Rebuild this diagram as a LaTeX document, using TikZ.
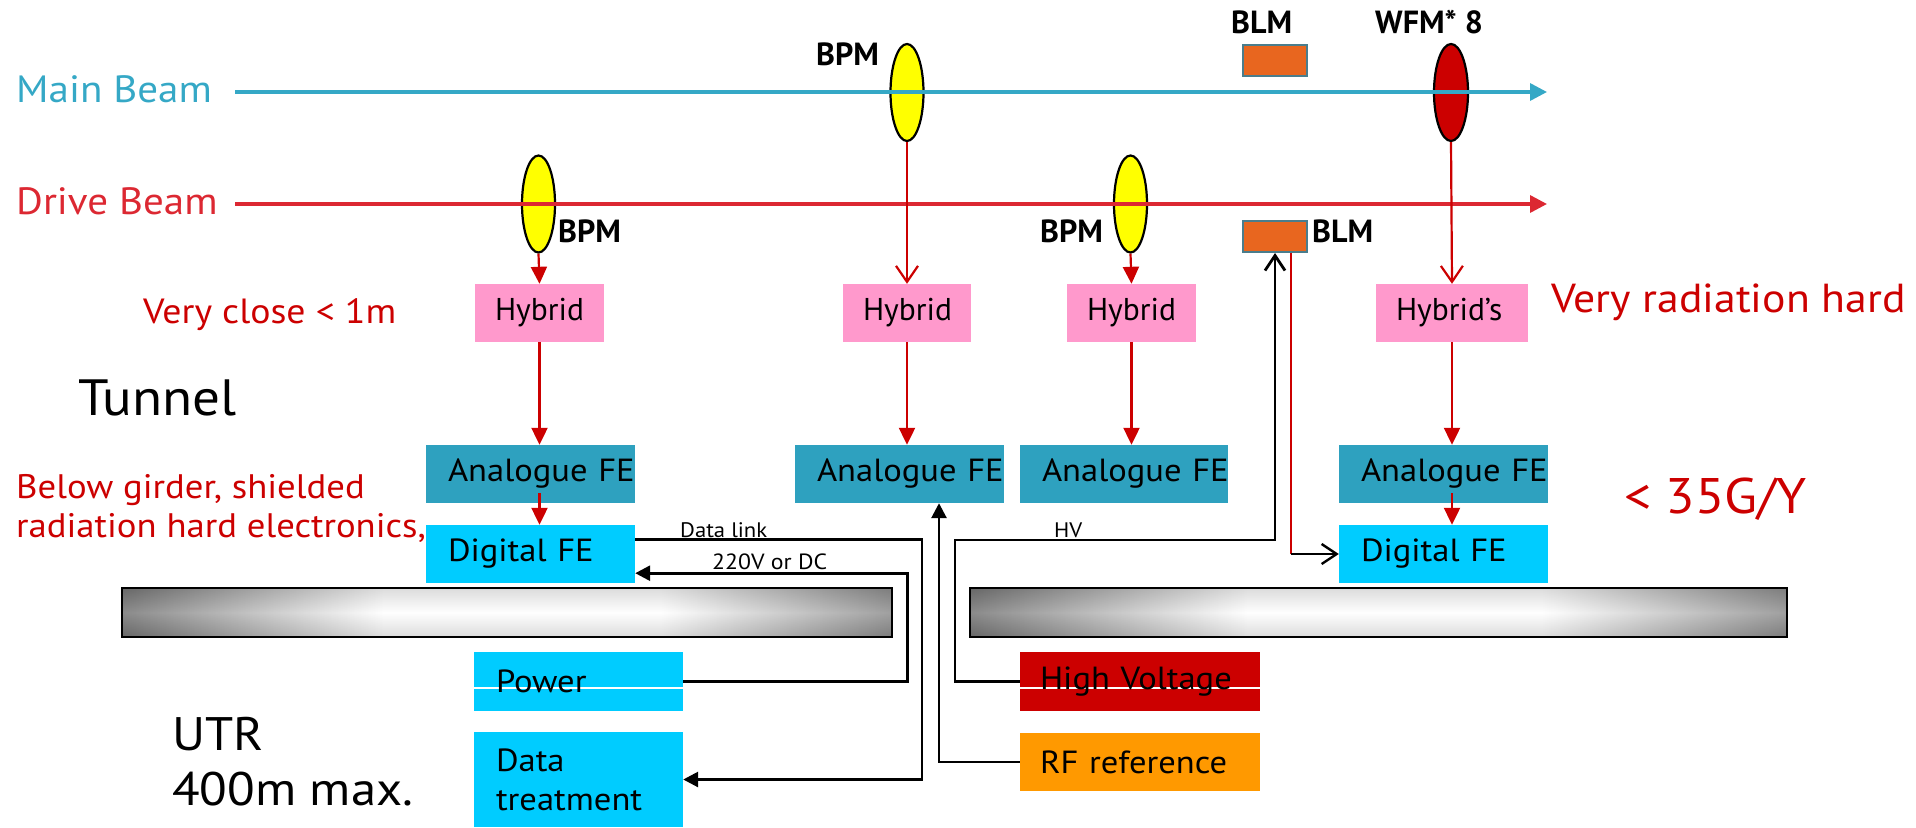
\documentclass[tikz,border=0pt]{standalone}
\usepackage{fontspec}
\setmainfont{PT Sans}[FakeStretch=1.08]
\newfontfamily\plainfont{PT Sans}
\usetikzlibrary{arrows.meta,shapes.geometric,calc}

\definecolor{mbeam}{HTML}{35A8C6}
\definecolor{dbeam}{HTML}{DC2832}
\definecolor{sigred}{HTML}{CC0000}
\definecolor{anfe}{HTML}{2EA1BF}
\definecolor{cyanbox}{HTML}{00CCFF}
\definecolor{hybpink}{HTML}{FF99CC}
\definecolor{blmor}{HTML}{E8661F}
\definecolor{blmedge}{HTML}{4A7D8C}
\definecolor{rforange}{HTML}{FF9900}
\definecolor{bpmyel}{HTML}{FFFF00}
\definecolor{girderL}{HTML}{6A6A6A}
\definecolor{girderR}{HTML}{858585}

\newcommand{\setfs}[2]{\fontsize{#1}{#2}\selectfont}

% girder: dark ends, broad white middle
\pgfdeclarehorizontalshading{girdershade}{100bp}{%
  color(0bp)=(girderL); color(25bp)=(girderL); color(42bp)=(white);
  color(60bp)=(white); color(75bp)=(girderR); color(100bp)=(girderR)}

\tikzset{
  txt/.style={inner sep=0pt, anchor=base west},
  lbl/.style={txt, font=\plainfont\setfs{32}{36}\bfseries},
  unit/.style={rectangle, inner ysep=0pt, inner xsep=#1, align=left,
               font=\setfs{32}{39}},
  hybrid/.style={unit=20pt, fill=hybpink, minimum height=58pt,
               font=\plainfont\setfs{31.5}{36}},
  pickup/.style={ellipse, draw=black, line width=2.2pt, inner sep=0pt,
                 minimum width=33pt, minimum height=97pt},
  blmbox/.style={rectangle, draw=blmedge, fill=blmor, line width=2pt,
                 inner sep=0pt, minimum width=64pt, minimum height=31pt},
  beam/.style={line width=3.4pt, -{Triangle[length=17pt,width=17pt]}},
  sig/.style={line width=2.2pt, draw=sigred},
  sigfill/.style={sig, -{Triangle[length=17pt,width=16pt]}},
  sigopen/.style={sig, -{Straight Barb[length=16pt,width=22pt]}},
  blk/.style={line width=2.8pt, draw=black},
  blkfill/.style={blk, -{Triangle[length=15pt,width=15pt]}},
  blkopen/.style={blk, -{Straight Barb[length=15pt,width=20pt]}},
  seam/.style={path picture={\draw[white,line width=1.3pt]
     ([yshift=-6.5pt]path picture bounding box.west) --
     ([yshift=-6.5pt]path picture bounding box.east);}},
  girder/.style={draw=black, line width=2.2pt, shading=girdershade}
}

\begin{document}
\begin{tikzpicture}[x=1pt,y=-1pt]
\useasboundingbox (0,0) rectangle (1916,827);

% ---------- beam pick-ups ----------
\node[pickup, fill=bpmyel] (bpm1) at (538.5,204) {};
\node[pickup, fill=bpmyel] (bpm2) at (907,92.5) {};
\node[pickup, fill=bpmyel] (bpm3) at (1130.5,204) {};
\node[pickup, fill=sigred, minimum width=34pt] (wfm) at (1451,92.5) {};
\node[blmbox] (blmtop) at (1275,60.5) {};
\node[blmbox] (blmbot) at (1275,236.5) {};

% ---------- beams ----------
\node[txt, font=\setfs{38}{44}, text=mbeam] (mainlbl) at (16,102) {Main Beam};
\node[txt, font=\setfs{38}{44}, text=dbeam] (drivelbl) at (16,214) {Drive Beam};
\coordinate (mbs) at (235,92);  \coordinate (mbe) at (1547,92);
\coordinate (dbs) at (235,204); \coordinate (dbe) at (1547,204);
\draw[beam, draw=mbeam, fill=mbeam] (mbs) -- (mbe);
\draw[beam, draw=dbeam, fill=dbeam] (dbs) -- (dbe);

% ---------- instrument labels ----------
\node[lbl] (bpm1l) at (558,242) {BPM};
\node[lbl] (bpm2l) at (816,65) {BPM};
\node[lbl] (bpm3l) at (1040,242) {BPM};
\node[lbl] (blmtopl) at (1231,33) {BLM};
\node[lbl] (blmbotl) at (1312,242) {BLM};
\node[lbl] (wfml) at (1375,33) {WFM* 8};

% ---------- hybrids ----------
\node[hybrid, text width=89pt] (hyb1) at (539.5,313) {Hybrid};
\node[hybrid, text width=88pt] (hyb2) at (907,313) {Hybrid};
\node[hybrid, text width=89pt] (hyb3) at (1131.5,313) {Hybrid};
\node[hybrid, text width=112pt] (hyb4) at (1452,313) {Hybrid’s};

% ---------- front ends ----------
\node[unit=22pt, fill=anfe, text width=165pt, minimum height=58pt] (an1) at (530.5,474) {\mbox{Analogue FE}};
\node[unit=22pt, fill=anfe, text width=165pt, minimum height=58pt] (an2) at (899.5,474) {\mbox{Analogue FE}};
\node[unit=22pt, fill=anfe, text width=164pt, minimum height=58pt] (an3) at (1124,474) {\mbox{Analogue FE}};
\node[unit=22pt, fill=anfe, text width=165pt, minimum height=58pt] (an4) at (1443.5,474) {\mbox{Analogue FE}};
\node[unit=22pt, fill=cyanbox, text width=165pt, minimum height=58pt] (dg1) at (530.5,554) {Digital FE};
\node[unit=22pt, fill=cyanbox, text width=165pt, minimum height=58pt] (dg4) at (1443.5,554) {Digital FE};

% ---------- girders ----------
\path[girder] (122,588) rectangle (892,637);
\shade[top color=black!60, bottom color=black!60, middle color=white, opacity=0.22] (123,589) rectangle (891,636);
\draw[black, line width=2.2pt] (122,588) rectangle (892,637);
\path[girder] (970,588) rectangle (1787,637);
\shade[top color=black!60, bottom color=black!60, middle color=white, opacity=0.22] (971,589) rectangle (1786,636);
\draw[black, line width=2.2pt] (970,588) rectangle (1787,637);

% ---------- surface equipment ----------
\node[unit=22pt, fill=cyanbox, seam, text width=165pt, minimum height=59pt] (pw) at (578.5,681.5) {Power};
\node[unit=22pt, fill=cyanbox, text width=165pt, minimum height=95pt, font=\setfs{32}{39}] (dt) at (578.5,779.5) {Data\\treatment};
\node[unit=20pt, fill=sigred, seam, text width=200pt, minimum height=59pt] (hv) at (1140,681.5) {\mbox{High Voltage}};
\node[unit=20pt, fill=rforange, text width=200pt, minimum height=58pt] (rf) at (1140,762) {\mbox{RF reference}};

% ---------- annotations ----------
\node[txt, font=\setfs{35}{40}, text=sigred] (close) at (143,323) {Very close < 1m};
\node[txt, font=\setfs{40.5}{46}, text=sigred] (radhard) at (1551,312) {Very radiation hard};
\node[txt, font=\setfs{51}{56}] (tunnel) at (78,415) {Tunnel};
\node[txt, font=\setfs{34}{39}, text=sigred] (girder1) at (16,498) {Below girder, shielded};
\node[txt, font=\setfs{34}{39}, text=sigred] (girder2) at (16,537) {radiation hard electronics,};
\node[txt, font=\setfs{50}{56}, text=sigred] (dose) at (1624,513) {< 35G/Y};
\node[txt, font=\setfs{47}{54}] (utr) at (172,750) {UTR};
\node[txt, font=\setfs{47}{54}] (utrmax) at (172,805) {400m max.};
\node[txt, font=\setfs{21}{24}] (dlinkl) at (680,537) {Data link};
\node[txt, font=\setfs{22}{25}] (acl) at (712,569) {220V or DC};
\node[txt, font=\setfs{21}{24}] (hvl) at (1054,537) {HV};

% ---------- signal chain ----------
\draw[sigfill] (bpm1.south) -- (hyb1.north);
\draw[sigfill] (bpm3.south) -- (hyb3.north);
\draw[sigopen] (bpm2.south) -- (hyb2.north);
\draw[sigopen] (wfm.south) -- (hyb4.north);
\draw[sigfill] (hyb1.south) -- (hyb1.south |- an1.north);
\draw[sigfill] (hyb2.south) -- (hyb2.south |- an2.north);
\draw[sigfill] (hyb3.south) -- (hyb3.south |- an3.north);
\draw[sigfill] (hyb4.south) -- (hyb4.south |- an4.north);
\draw[sigfill] ([yshift=10pt]hyb1.south |- an1.south) -- (hyb1.south |- dg1.north);
\draw[sigfill] ([yshift=10pt]hyb4.south |- an4.south) -- (hyb4.south |- dg4.north);

% ---------- cabling to the surface ----------
\coordinate (dlx) at (922,540);
\coordinate (hvx) at (955,540);
\draw[blkfill] ([yshift=-15pt]dg1.north east) -| (dlx |- dt.east) -- (dt.east);
\draw[blkfill] (pw.east) -| ([xshift=272pt,yshift=10pt]dg1.south east) -- ([yshift=10pt]dg1.south east);
\draw[blkfill] (rf.west) -| ([xshift=39.5pt]an2.south);
\draw[blkopen] (hv.west) -| (hvx) -| (blmbot.south);
\coordinate (blmdrop) at ([xshift=16pt]blmbot.south |- dg4.west);
\draw[sig] ([xshift=16pt]blmbot.south) -- (blmdrop);
\draw[blkopen, line width=2.4pt] (blmdrop) -- (dg4.west);
\end{tikzpicture}
\end{document}
